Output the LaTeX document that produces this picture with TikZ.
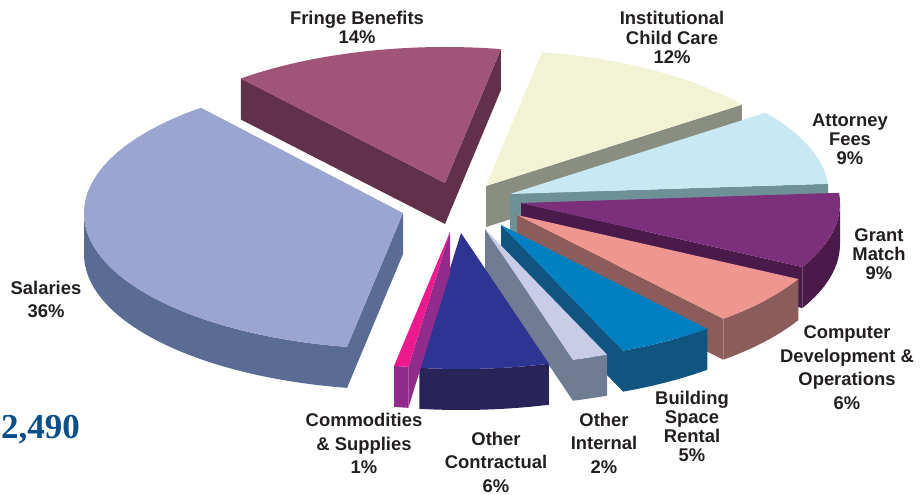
\documentclass[tikz,border=0pt]{standalone}
\usepackage{fontspec}
\setmainfont{Liberation Sans}
\newfontfamily\numfont{Liberation Serif}
\usetikzlibrary{calc}
\definecolor{salT}{RGB}{154,165,210}\definecolor{salS}{RGB}{91,108,148}
\definecolor{friT}{RGB}{160,84,120}\definecolor{friS}{RGB}{98,48,75}
\definecolor{insT}{RGB}{242,242,212}\definecolor{insS}{RGB}{138,142,128}
\definecolor{attT}{RGB}{200,232,244}\definecolor{attS}{RGB}{110,145,152}
\definecolor{graT}{RGB}{124,48,124}\definecolor{graS}{RGB}{74,26,74}
\definecolor{comT}{RGB}{240,150,144}\definecolor{comS}{RGB}{139,92,90}
\definecolor{bldT}{RGB}{0,128,192}\definecolor{bldS}{RGB}{16,84,128}
\definecolor{oinT}{RGB}{200,204,230}\definecolor{oinS}{RGB}{112,124,148}
\definecolor{ocoT}{RGB}{46,52,146}\definecolor{ocoS}{RGB}{40,36,90}
\definecolor{cmdT}{RGB}{236,26,140}\definecolor{cmdS}{RGB}{146,44,140}
\definecolor{txt}{RGB}{35,31,32}
\definecolor{bignum}{RGB}{11,79,138}
% top face: cx, cy, start, end, colour
\newcommand\pieTop[5]{\fill[#5] (#1,#2) -- ++(#3:319pt and 136pt) arc[start angle=#3,end angle=#4,x radius=319pt,y radius=136pt] -- cycle;}
% outer rim side: cx, cy, start, end, colour
\newcommand\pieRim[5]{\fill[#5] (#1,#2) ++(#3:319pt and 136pt) arc[start angle=#3,end angle=#4,x radius=319pt,y radius=136pt] -- ++(0,-41) arc[start angle=#4,end angle=#3,x radius=319pt,y radius=136pt] -- cycle;}
% radial cut face: cx, cy, angle, colour
\newcommand\pieCut[4]{\fill[#4] (#1,#2) -- ++(#3:319pt and 136pt) -- ++(0,-41) -- (#1,{#2-41}) -- cycle;}
\begin{document}
\begin{tikzpicture}[x=1pt,y=1pt,
  lbl/.style={text=txt,align=center,inner sep=0pt,font=\bfseries\fontsize{18.4}{19.2}\selectfont},
  lblw/.style={text=txt,align=center,inner sep=0pt,font=\bfseries\fontsize{18.4}{23.5}\selectfont}]
\useasboundingbox (0,0) rectangle (924,495);
% Fringe Benefits
\pieCut{445}{312}{79.9}{friS}
\pieCut{445}{312}{129.8}{friS}
\pieTop{445}{312}{79.9}{129.8}{friT}
% Salaries
\pieRim{403}{282}{180}{259.9}{salS}
\pieCut{403}{282}{259.9}{salS}
\pieTop{403}{282}{129.3}{259.9}{salT}
% Institutional Child Care
\pieCut{486}{309}{36.7}{insS}
\pieTop{486}{309}{36.7}{79.9}{insT}
% Attorney Fees
\pieCut{510}{301}{4.3}{attS}
\pieTop{510}{301}{4.3}{36.7}{attT}
% Grant Match
\pieRim{521}{292}{331.9}{360}{graS}
\pieCut{521}{292}{331.9}{graS}
\pieTop{521}{292}{331.9}{364.3}{graT}
% Computer Development
\pieRim{517}{280}{310.3}{331.9}{comS}
\pieCut{517}{280}{310.3}{comS}
\pieTop{517}{280}{310.3}{331.9}{comT}
% Building Space Rental
\pieRim{501}{270}{292.5}{310.3}{bldS}
\pieCut{501}{270}{292.5}{bldS}
\pieTop{501}{270}{292.5}{310.3}{bldT}
% Other Internal
\pieRim{485}{266}{286}{292.5}{oinS}
\pieCut{485}{266}{286}{oinS}
\pieTop{485}{266}{286}{292.5}{oinT}
% Other Contractual
\pieRim{461}{262}{262.5}{286}{ocoS}
\pieTop{461}{262}{262.5}{286}{ocoT}
% Commodities & Supplies
\pieRim{450}{263}{259.9}{262.5}{cmdS}
\pieCut{450}{263}{262.5}{cmdS}
\pieTop{450}{263}{259.9}{262.5}{cmdT}
% labels
\node[lbl]  (lfri) at (357,467.5) {Fringe Benefits\\14\%};
\node[lbl]  (lins) at (672,457.5) {Institutional\\Child Care\\12\%};
\node[lbl]  (latt) at (850,356)   {Attorney\\Fees\\9\%};
\node[lbl]  (lgra) at (879,241)   {Grant\\Match\\9\%};
\node[lblw] (lcom) at (847,127.5) {Computer\\Development \&\\Operations\\6\%};
\node[lbl]  (lbld) at (692,68.5)  {Building\\Space\\Rental\\5\%};
\node[lblw] (loin) at (604,52)    {Other\\Internal\\2\%};
\node[lblw] (loco) at (496,33)    {Other\\Contractual\\6\%};
\node[lblw] (lcmd) at (364,51.5)  {Commodities\\\& Supplies\\1\%};
\node[lblw] (lsal) at (46,195.5)  {Salaries\\36\%};
\node[anchor=base west,inner sep=0pt,text=bignum,font=\numfont\bfseries\fontsize{35}{37}\selectfont] (total) at (1,56) {2,490};
\end{tikzpicture}
\end{document}
